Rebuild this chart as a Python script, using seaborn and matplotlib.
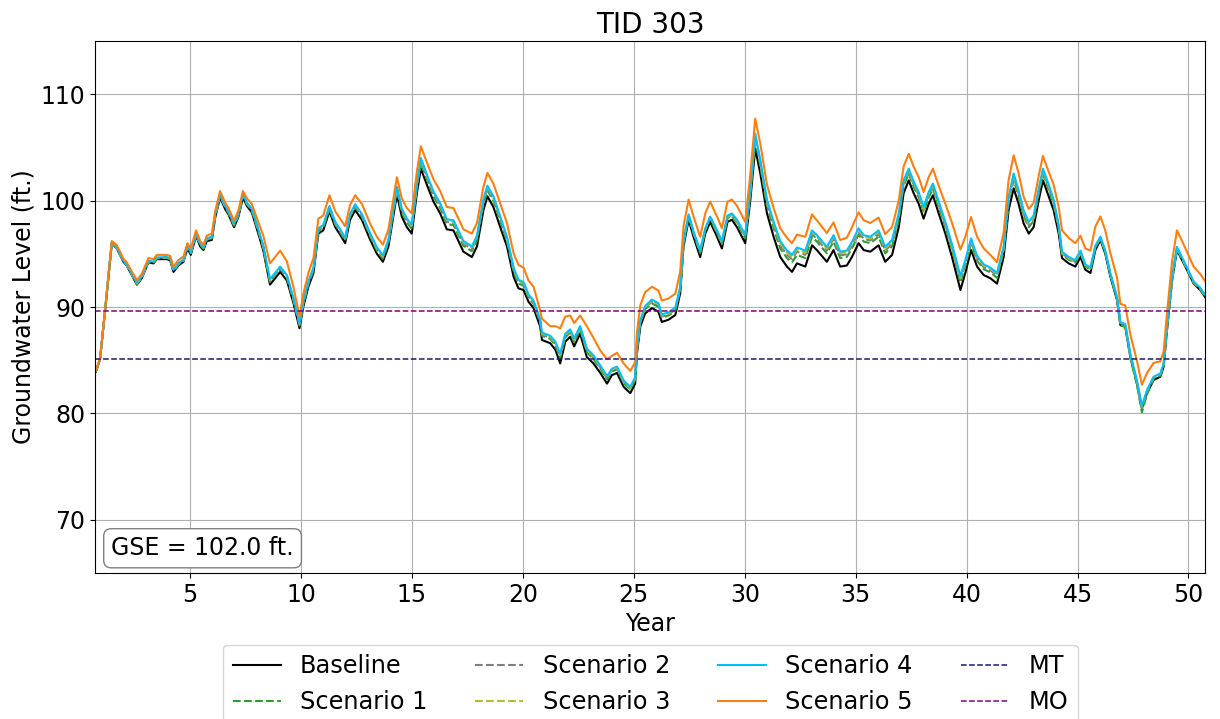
import matplotlib
matplotlib.use("Agg")
import matplotlib.pyplot as plt
import numpy as np
import pandas as pd
import seaborn as sns


font_size = 17
legend_size = 17.3
title_size = 20

# Years of the readings (decimal years)
years = [
    0.75, 0.94, 1.17, 1.47, 1.70, 1.99, 2.14, 2.60, 2.82, 3.12,
    3.35, 3.50, 3.95, 4.10, 4.25, 4.47, 4.70, 4.88, 5.03, 5.27,
    5.45, 5.60, 5.75, 5.98, 6.13, 6.35, 6.58, 6.73, 6.98, 7.18,
    7.38, 7.56, 7.78, 8.00, 8.30, 8.60, 9.06, 9.36, 9.66, 9.93,
    10.10, 10.33, 10.56, 10.78, 11.00, 11.28, 11.54, 11.76, 11.99, 12.21,
    12.44, 12.74, 13.12, 13.42, 13.69, 13.94, 14.32, 14.54, 14.77, 14.99,
    15.22, 15.40, 15.67, 15.97, 16.27, 16.57, 16.87, 17.32, 17.70, 17.93,
    18.22, 18.40, 18.67, 18.98, 19.28, 19.58, 19.80, 20.03, 20.25, 20.48,
    20.78, 20.86, 21.23, 21.46, 21.68, 21.91, 22.13, 22.31, 22.58, 22.88,
    23.18, 23.49, 23.79, 24.01, 24.24, 24.54, 24.84, 25.06, 25.14, 25.29,
    25.51, 25.82, 26.11, 26.26, 26.56, 26.87, 27.09, 27.24, 27.47, 27.69,
    27.99, 28.22, 28.44, 28.75, 28.97, 29.22, 29.42, 29.65, 30.02, 30.25,
    30.47, 30.70, 31.00, 31.30, 31.60, 31.90, 32.13, 32.35, 32.73, 33.03,
    33.25, 33.70, 34.00, 34.30, 34.60, 34.83, 35.13, 35.36, 35.66, 36.03,
    36.33, 36.64, 36.94, 37.16, 37.39, 37.61, 37.84, 38.06, 38.29, 38.48,
    38.74, 39.04, 39.34, 39.72, 39.94, 40.20, 40.47, 40.77, 41.07, 41.37,
    41.67, 41.89, 42.12, 42.34, 42.57, 42.80, 43.02, 43.25, 43.44, 43.70,
    43.92, 44.15, 44.30, 44.60, 44.90, 45.13, 45.35, 45.58, 45.80, 46.03,
    46.25, 46.48, 46.78, 46.93, 47.15, 47.38, 47.68, 47.90, 48.13, 48.43,
    48.73, 48.88, 49.03, 49.26, 49.48, 49.71, 49.93, 50.23, 50.53, 50.76,
]

# Baseline groundwater level (ft.)
baseline = [
    83.9, 85.1, 89.7, 96.0, 95.5, 94.25, 93.9, 92.1, 92.7, 94.2,
    94.1, 94.5, 94.5, 94.4, 93.3, 93.9, 94.25, 95.5, 94.9, 96.7,
    95.7, 95.35, 96.2, 96.3, 98.4, 100.3, 99.2, 98.7, 97.5, 98.5,
    100.3, 99.5, 98.9, 97.4, 95.3, 92.1, 93.3, 92.5, 90.35, 88.0,
    90.0, 91.9, 93.2, 96.9, 97.2, 99.0, 97.5, 96.8, 96.0, 98.2,
    99.1, 98.2, 96.3, 95.0, 94.25, 95.7, 100.6, 98.5, 97.5, 96.9,
    100.7, 103.0, 101.5, 99.9, 98.8, 97.3, 97.2, 95.2, 94.7, 95.7,
    99.1, 100.4, 99.4, 97.5, 95.7, 92.85, 91.75, 91.6, 90.5, 89.9,
    88.15, 86.9, 86.6, 86.0, 84.7, 86.75, 87.2, 86.3, 87.5, 85.3,
    84.7, 83.8, 82.8, 83.6, 83.8, 82.5, 81.9, 82.8, 85.6, 88.15,
    89.4, 89.9, 89.55, 88.6, 88.8, 89.25, 91.3, 95.7, 98.2, 96.6,
    94.7, 96.9, 98.0, 96.6, 95.5, 98.0, 98.2, 97.5, 96.0, 100.05,
    104.9, 102.55, 98.8, 96.6, 94.7, 93.8, 93.3, 94.1, 93.8, 95.8,
    95.35, 94.25, 95.35, 93.8, 93.9, 94.7, 96.0, 95.35, 95.2, 95.8,
    94.25, 94.9, 97.5, 100.7, 101.9, 100.7, 99.7, 98.3, 99.7, 100.5,
    98.8, 96.9, 94.7, 91.6, 93.2, 95.35, 93.8, 93.0, 92.7, 92.2,
    94.7, 99.1, 101.15, 99.7, 97.85, 96.9, 97.5, 100.05, 101.9, 100.4,
    99.1, 96.9, 94.6, 94.1, 93.8, 94.7, 93.5, 93.2, 95.35, 96.3,
    95.0, 92.85, 90.65, 88.3, 88.15, 85.3, 82.8, 80.5, 81.9, 83.15,
    83.45, 84.4, 87.8, 92.5, 95.35, 94.4, 93.5, 92.2, 91.6, 90.9,
]

# Rise of each scenario above the baseline (ft.), read per point
rise_s1 = [
    0.0, 0.0, 0.0, 0.05, 0.05, 0.05, 0.05, 0.1, 0.1, 0.1,
    0.1, 0.1, 0.1, 0.1, 0.1, 0.1, 0.1, 0.15, 0.15, 0.15,
    0.15, 0.15, 0.15, 0.15, 0.15, 0.15, 0.15, 0.15, 0.15, 0.15,
    0.15, 0.15, 0.2, 0.2, 0.25, 0.25, 0.25, 0.25, 0.25, 0.25,
    0.25, 0.25, 0.25, 0.25, 0.25, 0.25, 0.25, 0.25, 0.25, 0.3,
    0.3, 0.3, 0.3, 0.3, 0.3, 0.35, 0.4, 0.4, 0.45, 0.45,
    0.5, 0.55, 0.5, 0.5, 0.5, 0.5, 0.5, 0.55, 0.55, 0.55,
    0.55, 0.55, 0.55, 0.55, 0.5, 0.45, 0.45, 0.4, 0.4, 0.4,
    0.4, 0.4, 0.4, 0.4, 0.5, 0.4, 0.4, 0.4, 0.4, 0.45,
    0.4, 0.4, 0.4, 0.35, 0.35, 0.35, 0.35, 0.35, 0.35, 0.35,
    0.4, 0.45, 0.45, 0.4, 0.4, 0.4, 0.35, 0.3, 0.3, 0.3,
    0.35, 0.3, 0.3, 0.35, 0.4, 0.35, 0.35, 0.4, 0.45, 0.55,
    0.8, 0.7, 0.7, 0.8, 0.8, 0.8, 0.9, 0.8, 0.8, 0.8,
    0.8, 0.8, 0.8, 0.8, 0.8, 0.8, 0.8, 0.8, 0.8, 0.8,
    0.8, 0.8, 0.7, 0.7, 0.6, 0.6, 0.6, 0.6, 0.6, 0.6,
    0.6, 0.6, 0.7, 0.7, 0.7, 0.6, 0.55, 0.55, 0.55, 0.55,
    0.55, 0.7, 0.8, 0.7, 0.7, 0.6, 0.6, 0.6, 0.6, 0.6,
    0.55, 0.45, 0.35, 0.35, 0.35, 0.35, 0.3, 0.3, 0.2, 0.15,
    0.15, 0.1, 0.05, 0.0, 0.0, -0.1, -0.2, -0.4, -0.1, 0.1,
    0.1, 0.1, 0.1, 0.1, 0.1, 0.1, 0.05, 0.05, 0.05, 0.05,
]
rise_s2 = [
    0.05, 0.05, 0.05, 0.05, 0.05, 0.05, 0.05, 0.1, 0.1, 0.1,
    0.1, 0.1, 0.15, 0.15, 0.15, 0.15, 0.15, 0.2, 0.2, 0.2,
    0.2, 0.2, 0.2, 0.2, 0.2, 0.2, 0.2, 0.2, 0.2, 0.2,
    0.2, 0.2, 0.25, 0.3, 0.35, 0.35, 0.35, 0.35, 0.35, 0.35,
    0.35, 0.35, 0.35, 0.35, 0.35, 0.35, 0.35, 0.35, 0.35, 0.4,
    0.4, 0.4, 0.45, 0.45, 0.45, 0.5, 0.5, 0.55, 0.6, 0.65,
    0.7, 0.75, 0.7, 0.7, 0.7, 0.7, 0.7, 0.75, 0.75, 0.75,
    0.75, 0.75, 0.75, 0.75, 0.7, 0.65, 0.6, 0.55, 0.5, 0.5,
    0.5, 0.5, 0.5, 0.55, 0.7, 0.55, 0.5, 0.55, 0.5, 0.6,
    0.55, 0.5, 0.5, 0.45, 0.45, 0.45, 0.45, 0.45, 0.45, 0.45,
    0.5, 0.6, 0.6, 0.5, 0.5, 0.5, 0.45, 0.4, 0.4, 0.4,
    0.45, 0.4, 0.4, 0.45, 0.5, 0.45, 0.45, 0.5, 0.6, 0.75,
    1.05, 1.0, 1.0, 1.05, 1.1, 1.1, 1.2, 1.1, 1.1, 1.05,
    1.05, 1.05, 1.05, 1.05, 1.05, 1.05, 1.05, 1.05, 1.05, 1.05,
    1.05, 1.05, 1.0, 0.9, 0.8, 0.8, 0.8, 0.8, 0.8, 0.8,
    0.8, 0.8, 0.9, 1.0, 0.9, 0.8, 0.75, 0.75, 0.75, 0.75,
    0.75, 0.9, 1.05, 1.0, 0.9, 0.8, 0.8, 0.8, 0.8, 0.8,
    0.75, 0.6, 0.45, 0.45, 0.45, 0.45, 0.4, 0.4, 0.3, 0.2,
    0.2, 0.2, 0.2, 0.2, 0.2, 0.15, 0.1, 0.0, 0.2, 0.2,
    0.2, 0.2, 0.2, 0.2, 0.2, 0.2, 0.15, 0.15, 0.15, 0.15,
]
rise_s3 = [
    0.05, 0.05, 0.05, 0.1, 0.1, 0.1, 0.1, 0.1, 0.1, 0.1,
    0.1, 0.1, 0.15, 0.15, 0.15, 0.15, 0.15, 0.2, 0.2, 0.2,
    0.2, 0.2, 0.2, 0.25, 0.25, 0.25, 0.25, 0.25, 0.25, 0.25,
    0.25, 0.25, 0.3, 0.35, 0.4, 0.45, 0.45, 0.45, 0.45, 0.45,
    0.45, 0.45, 0.45, 0.45, 0.45, 0.45, 0.45, 0.45, 0.45, 0.5,
    0.5, 0.5, 0.5, 0.5, 0.5, 0.55, 0.6, 0.65, 0.7, 0.75,
    0.8, 0.85, 0.85, 0.85, 0.85, 0.85, 0.85, 0.9, 0.9, 0.9,
    0.9, 0.9, 0.9, 0.9, 0.8, 0.75, 0.7, 0.65, 0.6, 0.6,
    0.6, 0.6, 0.6, 0.65, 0.8, 0.65, 0.6, 0.65, 0.6, 0.7,
    0.65, 0.6, 0.6, 0.5, 0.5, 0.5, 0.5, 0.5, 0.5, 0.5,
    0.6, 0.7, 0.7, 0.6, 0.6, 0.6, 0.5, 0.45, 0.45, 0.45,
    0.5, 0.45, 0.45, 0.5, 0.6, 0.5, 0.5, 0.6, 0.7, 0.9,
    1.25, 1.15, 1.15, 1.25, 1.3, 1.3, 1.4, 1.3, 1.3, 1.25,
    1.25, 1.25, 1.25, 1.25, 1.25, 1.25, 1.25, 1.25, 1.25, 1.25,
    1.25, 1.25, 1.15, 1.05, 0.95, 0.95, 0.95, 0.95, 0.95, 0.95,
    0.95, 0.95, 1.05, 1.15, 1.05, 0.95, 0.9, 0.9, 0.9, 0.9,
    0.9, 1.05, 1.25, 1.15, 1.05, 0.95, 0.95, 0.95, 0.95, 0.95,
    0.9, 0.7, 0.5, 0.5, 0.5, 0.5, 0.45, 0.45, 0.35, 0.25,
    0.25, 0.25, 0.25, 0.2, 0.2, 0.2, 0.2, 0.15, 0.25, 0.25,
    0.25, 0.25, 0.25, 0.25, 0.25, 0.2, 0.15, 0.15, 0.15, 0.15,
]
rise_s4 = [
    0.05, 0.05, 0.05, 0.1, 0.1, 0.1, 0.1, 0.15, 0.15, 0.15,
    0.15, 0.15, 0.2, 0.2, 0.2, 0.2, 0.2, 0.25, 0.25, 0.25,
    0.25, 0.25, 0.25, 0.3, 0.3, 0.3, 0.3, 0.3, 0.3, 0.3,
    0.3, 0.3, 0.35, 0.4, 0.45, 0.5, 0.5, 0.5, 0.5, 0.5,
    0.5, 0.5, 0.5, 0.5, 0.5, 0.5, 0.5, 0.5, 0.5, 0.55,
    0.55, 0.55, 0.6, 0.6, 0.6, 0.65, 0.7, 0.75, 0.8, 0.85,
    0.9, 1.0, 0.95, 0.95, 0.95, 0.95, 0.95, 1.0, 1.0, 1.0,
    1.0, 1.0, 1.0, 1.0, 0.9, 0.85, 0.8, 0.75, 0.7, 0.7,
    0.7, 0.7, 0.7, 0.75, 0.9, 0.75, 0.7, 0.75, 0.7, 0.8,
    0.75, 0.7, 0.7, 0.6, 0.6, 0.6, 0.6, 0.6, 0.6, 0.6,
    0.7, 0.8, 0.8, 0.7, 0.7, 0.7, 0.6, 0.5, 0.5, 0.5,
    0.6, 0.5, 0.5, 0.6, 0.7, 0.6, 0.6, 0.7, 0.8, 1.0,
    1.4, 1.3, 1.3, 1.4, 1.5, 1.5, 1.6, 1.5, 1.5, 1.4,
    1.4, 1.4, 1.4, 1.4, 1.4, 1.4, 1.4, 1.4, 1.4, 1.4,
    1.4, 1.4, 1.3, 1.2, 1.1, 1.1, 1.1, 1.1, 1.1, 1.1,
    1.1, 1.1, 1.2, 1.3, 1.2, 1.1, 1.0, 1.0, 1.0, 1.0,
    1.0, 1.2, 1.4, 1.3, 1.2, 1.1, 1.1, 1.1, 1.1, 1.1,
    1.0, 0.8, 0.6, 0.6, 0.6, 0.6, 0.5, 0.5, 0.4, 0.3,
    0.3, 0.3, 0.3, 0.25, 0.25, 0.25, 0.25, 0.2, 0.3, 0.3,
    0.3, 0.3, 0.3, 0.3, 0.3, 0.25, 0.2, 0.2, 0.2, 0.2,
]
rise_s5 = [
    0.1, 0.1, 0.1, 0.2, 0.3, 0.3, 0.3, 0.4, 0.4, 0.4,
    0.4, 0.4, 0.4, 0.4, 0.5, 0.5, 0.5, 0.5, 0.6, 0.5,
    0.5, 0.5, 0.5, 0.6, 0.6, 0.6, 0.6, 0.6, 0.6, 0.6,
    0.6, 0.7, 0.8, 1.0, 1.4, 2.0, 2.0, 1.8, 1.5, 1.1,
    1.2, 1.3, 1.4, 1.4, 1.4, 1.5, 1.5, 1.5, 1.6, 1.4,
    1.4, 1.5, 1.5, 1.6, 1.6, 1.6, 1.6, 1.7, 1.8, 1.9,
    2.0, 2.1, 2.1, 2.1, 2.1, 2.1, 2.1, 2.1, 2.2, 2.2,
    2.2, 2.2, 2.2, 2.2, 2.2, 2.2, 2.2, 2.1, 2.0, 2.0,
    1.5, 2.0, 1.6, 2.2, 3.3, 2.35, 2.0, 2.2, 1.7, 2.9,
    2.4, 2.1, 2.3, 1.8, 1.9, 2.2, 2.1, 2.0, 2.0, 2.0,
    2.0, 2.0, 2.0, 2.0, 2.0, 2.0, 2.0, 1.9, 1.9, 1.9,
    1.9, 1.9, 1.9, 1.9, 1.9, 1.9, 1.9, 2.0, 2.0, 2.4,
    2.8, 2.8, 2.7, 2.7, 2.7, 2.7, 2.7, 2.7, 2.8, 2.9,
    2.8, 2.7, 2.6, 2.5, 2.6, 2.8, 2.9, 2.8, 2.7, 2.6,
    2.6, 2.6, 2.5, 2.5, 2.5, 2.5, 2.5, 2.5, 2.5, 2.5,
    2.6, 2.8, 3.2, 3.8, 3.4, 3.1, 2.8, 2.5, 2.2, 2.0,
    2.3, 2.8, 3.1, 2.9, 2.5, 2.3, 2.3, 2.3, 2.3, 2.3,
    2.4, 2.5, 2.6, 2.4, 2.2, 2.0, 2.0, 2.1, 2.2, 2.2,
    2.2, 2.2, 2.1, 2.0, 2.0, 2.1, 2.1, 2.2, 1.9, 1.6,
    1.45, 1.4, 1.6, 1.8, 1.85, 1.8, 1.7, 1.6, 1.5, 1.5,
]

mt_level = 85.1
mo_level = 89.6
gse = 102.0

series_names = ["Baseline", "Scenario 1", "Scenario 2", "Scenario 3", "Scenario 4", "Scenario 5"]
series_colors = ["black", "tab:green", "tab:gray", "tab:olive", "deepskyblue", "tab:orange"]
series_styles = ["-", "--", "--", "--", "-", "-"]
rises = [None, rise_s1, rise_s2, rise_s3, rise_s4, rise_s5]


def main():
    base = np.array(baseline)
    frames = []
    for name, rise in zip(series_names, rises):
        level = base if rise is None else base + np.array(rise)
        frames.append(pd.DataFrame({"Year": years, "Level": level, "Series": name}))
    df = pd.concat(frames, ignore_index=True)

    fig, ax = plt.subplots(figsize=(12.2, 7.19), dpi=100)
    fig.subplots_adjust(left=0.078, right=0.988, top=0.943, bottom=0.203)

    for name, color, style in zip(series_names, series_colors, series_styles):
        sns.lineplot(data=df[df["Series"] == name], x="Year", y="Level", ax=ax,
                     color=color, linestyle=style, linewidth=1.5, label=name)

    ax.axhline(mt_level, color="midnightblue", linestyle="--", linewidth=1.1, label="MT")
    ax.axhline(mo_level, color="purple", linestyle="--", linewidth=1.1, label="MO")

    ax.set_xlim(min(years) - 0.03, max(years))
    ax.set_ylim(65, 115)
    ax.set_xticks(range(5, 51, 5))
    ax.set_yticks(range(70, 111, 10))
    ax.grid(True)
    ax.set_xlabel("Year", fontsize=font_size)
    ax.set_ylabel("Groundwater Level (ft.)", fontsize=font_size)
    ax.set_title("TID 303", fontsize=title_size)
    ax.tick_params("x", labelsize=font_size)
    ax.tick_params("y", labelsize=font_size)

    ax.text(0.0145, 0.024, "GSE = %.1f ft." % gse, transform=ax.transAxes, fontsize=font_size,
            va="bottom", ha="left",
            bbox=dict(boxstyle="round,pad=0.32", facecolor="white", edgecolor="gray"))

    ax.legend(loc="upper center", bbox_to_anchor=(0.5, -0.112), ncol=4, fontsize=legend_size)

    plt.savefig("out.png")


if __name__ == "__main__":
    main()
